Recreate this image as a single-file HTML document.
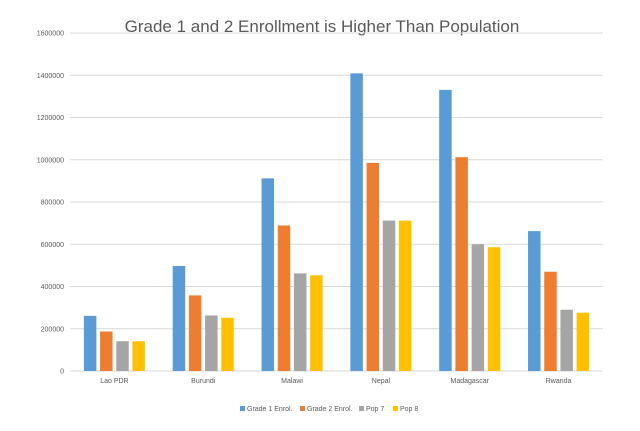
<!DOCTYPE html>
<html><head><meta charset="utf-8"><style>
body{margin:0;background:#fff;font-family:"Liberation Sans",sans-serif}
svg text{font-family:"Liberation Sans",sans-serif;fill:#595959}
</style></head><body>
<svg id="chart" width="640" height="426" viewBox="0 0 640 426">
<text x="322" y="32" text-anchor="middle" font-size="17">Grade 1 and 2 Enrollment is Higher Than Population</text>
<g id="grid"></g><g id="bars"></g><g id="legend"></g>
</svg>
<script>
const categories=["Lao PDR","Burundi","Malawi","Nepal","Madagascar","Rwanda"];
const seriesNames=["Grade 1 Enrol.","Grade 2 Enrol.","Pop 7","Pop 8"];
const grade1=[261000,497000,912000,1409000,1331000,662000];
const grade2=[187000,358000,689000,985000,1012000,470000];
const pop7=[141000,263000,462000,712000,600000,290000];
const pop8=[141000,252000,453000,712000,586000,276000];
const yTicks=[0,200000,400000,600000,800000,1000000,1200000,1400000,1600000];
const colors=["#5b9bd5","#ed7d31","#a5a5a5","#ffc000"];
const series=[grade1,grade2,pop7,pop8];
const NS="http://www.w3.org/2000/svg";
const x0=70,x1=603,y0=371,yTop=33;
const y=v=>y0-(v/1600000)*(y0-yTop);
const catW=(x1-x0)/categories.length;
const xc=i=>x0+catW*(i+0.5);
function mk(t,a,p){const e=document.createElementNS(NS,t);for(const k in a)e.setAttribute(k,a[k]);p.appendChild(e);return e;}
const grid=document.getElementById('grid');
yTicks.forEach(v=>{
 const l=mk('line',{x1:x0,x2:x1,y1:y(v),y2:y(v),stroke:'#d9d9d9','stroke-width':1},grid);
 
 
 const t=mk('text',{x:64,y:y(v)+2.5,'text-anchor':'end','font-size':7},grid);
 t.textContent=v;
 
 
});
const bars=document.getElementById('bars');
const bw=12.5,gap=3.7;
categories.forEach((c,i)=>{
 const start=xc(i)-(4*bw+3*gap)/2;
 series.forEach((s,j)=>{
  const r=mk('rect',{x:start+j*(bw+gap),y:y(s[i]),width:bw,height:y0-y(s[i]),fill:colors[j]},bars);
  
  
 });
 const t=mk('text',{x:xc(i),y:383,'text-anchor':'middle','font-size':7},bars);
 t.textContent=c;
 
 
});
const leg=document.getElementById('legend');
const lx=[240,300,359,393];
seriesNames.forEach((n,j)=>{
 const r=mk('rect',{x:lx[j],y:406,width:5,height:5,fill:colors[j]},leg);
 
 
 const t=mk('text',{x:lx[j]+7,y:411,'font-size':7},leg);
 t.textContent=n;
 
 
});
</script>
</body></html>
